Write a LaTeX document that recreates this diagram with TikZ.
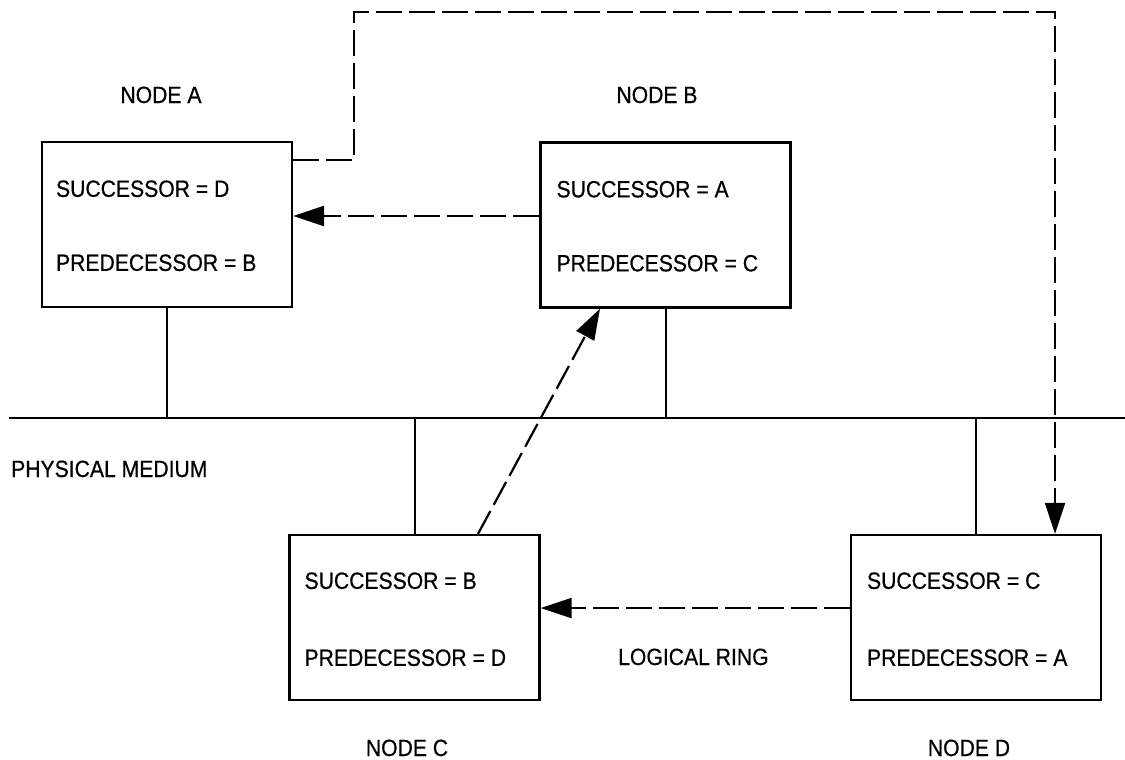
\documentclass[tikz,border=0pt]{standalone}
\usepackage{fontspec}
\setmainfont{Liberation Sans}[FakeStretch=0.9,FakeBold=0.6]
\usetikzlibrary{arrows.meta,calc}
\tikzset{
  stationbox/.style={draw,line width=2.3pt,minimum width=250pt,minimum height=165pt,inner sep=0pt},
  txt/.style={font=\fontsize{23.5pt}{26pt}\selectfont,inner sep=0pt},
  wire/.style={line width=2pt},
  ring/.style={line width=2.2pt,dash pattern=on 26pt off 7pt,-{Triangle[length=31pt,width=20pt]}},
}
\begin{document}
\begin{tikzpicture}[x=1pt,y=-1pt]
\useasboundingbox (0,0) rectangle (1125,760);

% stations
\node[stationbox] (A) at (167,224.5) {};
\node[stationbox] (B) at (665.5,225) {};
\node[stationbox] (C) at (414.5,617.5) {};
\node[stationbox] (D) at (976,617.5) {};

% station tables
\node[txt,anchor=base west] (As) at ($(A.north west)+(15,56)$) {SUCCESSOR = D};
\node[txt,anchor=base west] (Ap) at ($(A.north west)+(15,130)$) {PREDECESSOR = B};
\node[txt,anchor=base west] (Bs) at ($(B.north west)+(17,56)$) {SUCCESSOR = A};
\node[txt,anchor=base west] (Bp) at ($(B.north west)+(17,130)$) {PREDECESSOR = C};
\node[txt,anchor=base west] (Cs) at ($(C.north west)+(16,55)$) {SUCCESSOR = B};
\node[txt,anchor=base west] (Cp) at ($(C.north west)+(16,132)$) {PREDECESSOR = D};
\node[txt,anchor=base west] (Ds) at ($(D.north west)+(17,55)$) {SUCCESSOR = C};
\node[txt,anchor=base west] (Dp) at ($(D.north west)+(17,132)$) {PREDECESSOR = A};

% station names
\node[txt,anchor=base] (nA) at (161,103) {NODE A};
\node[txt,anchor=base] (nB) at (657,103) {NODE B};
\node[txt,anchor=base] (nC) at (407,756) {NODE C};
\node[txt,anchor=base] (nD) at (969,756) {NODE D};

% bus
\coordinate (ml) at (9,418);
\coordinate (mr) at (1125,418);
\draw[wire] (ml) -- (mr);
\node[txt,anchor=base west] (pm) at (11,477) {PHYSICAL MEDIUM};

% taps
\draw[wire] (A.south) -- (A.south |- ml);
\draw[wire] (B.south) -- (B.south |- ml);
\draw[wire] (C.north) -- (C.north |- ml);
\draw[wire] (D.north) -- (D.north |- ml);

% logical ring
\draw[ring] (B.west |- 0,216) -- (A.east |- 0,216);
\draw[ring] (D.west |- 0,608) -- (C.east |- 0,608);
\draw[ring] (C.north -| 478,0) -- (B.south -| 600,0);
\coordinate (k1) at (354,160);
\coordinate (k2) at (354,12);
\coordinate (k3) at (1055,12);
\draw[ring] (A.east |- k1) -- (k1) -- (k2) -- (k3) -- (k3 |- D.north);
\node[txt,anchor=base west] (lr) at (618,665) {LOGICAL RING};
\end{tikzpicture}
\end{document}
